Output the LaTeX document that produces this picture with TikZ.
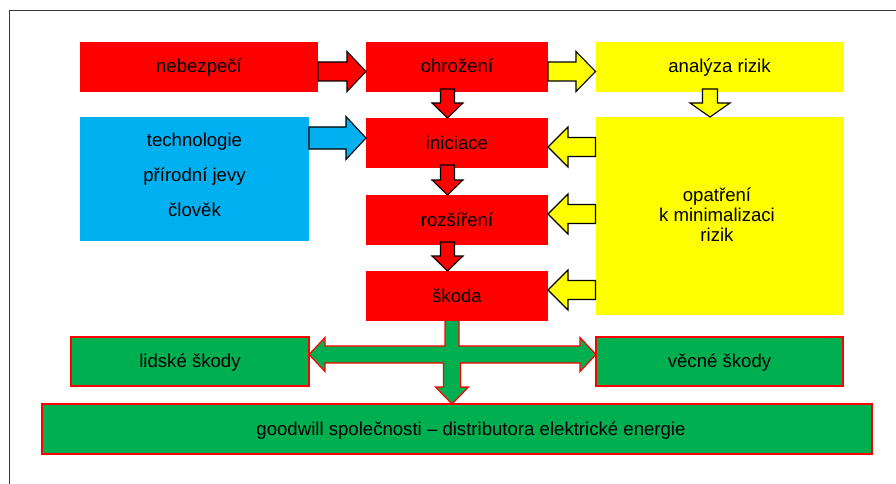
\documentclass[tikz,border=0pt]{standalone}
\usepackage{fontspec}
\setmainfont{Liberation Sans}
\usetikzlibrary{calc}
\definecolor{cred}{HTML}{FF0000}
\definecolor{cyel}{HTML}{FFFF00}
\definecolor{cblue}{HTML}{00B0F0}
\definecolor{cgreen}{HTML}{00B050}
\definecolor{cframe}{HTML}{383838}
\tikzset{
  x=1pt, y=-1pt,
  box/.style={inner sep=0pt, outer sep=0pt, text height=12pt, text depth=0pt,
    font=\fontsize{18.6}{20}\selectfont},
  redbox/.style={box, fill=cred},
  yelbox/.style={box, fill=cyel},
  bluebox/.style={box, fill=cblue},
  greenbox/.style={box, fill=cgreen, draw=cred, line width=1.2pt},
  txt/.style={inner sep=0pt, anchor=base, font=\fontsize{18.6}{20}\selectfont},
  blk/.style={draw=black, line width=1.1pt, line join=miter},
  grnarrow/.style={fill=cgreen, draw=cred, line width=1.2pt, line join=miter},
}
% right arrow: #1 source anchor, #2 target anchor, #3 dy, #4 shaft half, #5 head half, #6 head length, #7 style
\newcommand\RArr[7]{%
  \coordinate (T) at ($(#2)+(0,#3)$);
  \coordinate (S) at (#1 |- T);
  \draw[#7] ($(S)+(0,-#4)$) -- ($(T)+(-#6,-#4)$) -- ($(T)+(-#6,-#5)$) -- (T)
    -- ($(T)+(-#6,#5)$) -- ($(T)+(-#6,#4)$) -- ($(S)+(0,#4)$) -- cycle;}
\newcommand\LArr[7]{%
  \coordinate (T) at ($(#2)+(0,#3)$);
  \coordinate (S) at (#1 |- T);
  \draw[#7] ($(S)+(0,-#4)$) -- ($(T)+(#6,-#4)$) -- ($(T)+(#6,-#5)$) -- (T)
    -- ($(T)+(#6,#5)$) -- ($(T)+(#6,#4)$) -- ($(S)+(0,#4)$) -- cycle;}
% down arrow: #3 dx
\newcommand\DArr[7]{%
  \coordinate (T) at ($(#2)+(#3,0)$);
  \coordinate (S) at ($(T |- #1)+(0,-3)$);
  \draw[#7] ($(S)+(-#4,0)$) -- ($(T)+(-#4,-#6)$) -- ($(T)+(-#5,-#6)$) -- (T)
    -- ($(T)+(#5,-#6)$) -- ($(T)+(#4,-#6)$) -- ($(S)+(#4,0)$) -- cycle;}
\begin{document}
\begin{tikzpicture}
\useasboundingbox (0,0) rectangle (896,484);
\clip (0,0) rectangle (896,484);
\fill[white] (0,0) rectangle (896,484);
\draw[cframe, line width=1.5pt] (9.5,10.5) rectangle (1000,600);

% boxes
\node[redbox, minimum width=238pt, minimum height=50pt] (neb) at (199,67) {nebezpečí};
\node[redbox, minimum width=182pt, minimum height=50pt] (ohr) at (457,67) {ohrožení};
\node[yelbox, minimum width=248pt, minimum height=50pt] (ana) at (719.5,67) {analýza rizik};
\node[bluebox, minimum width=229pt, minimum height=124pt] (tech) at (194.5,179) {};
\node[redbox, minimum width=182pt, minimum height=50pt] (ini) at (457,143) {iniciace};
\node[yelbox, minimum width=248pt, minimum height=198pt] (opa) at (719.5,216) {};
\node[redbox, minimum width=182pt, minimum height=50pt] (roz) at (457,220) {rozšíření};
\node[redbox, minimum width=182pt, minimum height=50pt] (sko) at (457,296) {škoda};
\node[greenbox, minimum width=238pt, minimum height=49pt] (lid) at (190,361.5) {lidské škody};
\node[greenbox, minimum width=247pt, minimum height=49pt] (vec) at (719.5,361.5) {věcné škody};
\node[greenbox, minimum width=830pt, minimum height=50pt] (good) at (457,429) {};

% texts
\node[txt] (g1) at (471,435) {goodwill společnosti – distributora elektrické energie};
\node[txt] (t1) at (194.5,146.5) {technologie};
\node[txt] (t2) at (194.5,181.5) {přírodní jevy};
\node[txt] (t3) at (194.5,216.5) {člověk};
\node[txt] (o1) at (717,201) {opatření};
\node[txt] (o2) at (717,221) {k minimalizaci};
\node[txt] (o3) at (717,241) {rizik};

% green distribution arrow
\coordinate (J) at ($(sko.south)+(-5,33.5)$);
\coordinate (L) at (lid.east |- J);
\coordinate (R) at (vec.west |- J);
\coordinate (D) at (J |- good.north);
\draw[grnarrow] ($(J |- sko.south)+(-7,0)$) -- ($(J)+(-7,-8.5)$) -- ($(L)+(16,-8.5)$)
  -- ($(L)+(16,-17)$) -- (L) -- ($(L)+(16,17)$) -- ($(L)+(16,8.5)$)
  -- ($(J)+(-8.5,8.5)$) -- ($(D)+(-8.5,-17)$) -- ($(D)+(-16.5,-17)$) -- (D)
  -- ($(D)+(16.5,-17)$) -- ($(D)+(8.5,-17)$) -- ($(J)+(8.5,8.5)$)
  -- ($(R)+(-16,8.5)$) -- ($(R)+(-16,17)$) -- (R) -- ($(R)+(-16,-17)$)
  -- ($(R)+(-16,-8.5)$) -- ($(J)+(7,-8.5)$) -- ($(J |- sko.south)+(7,0)$);
\fill[cred] ($(sko.south)+(-91,-1)$) rectangle ($(sko.south)+(91,0)$);

% block arrows
\RArr{neb.east}{ohr.west}{4.5}{9.5}{20}{19}{blk, fill=cred}
\RArr{ohr.east}{ana.west}{4.5}{9.5}{20}{19.5}{blk, fill=cyel}
\RArr{tech.east}{ini.west}{-5}{11}{21.5}{20}{blk, fill=cblue}
\LArr{opa.west}{ini.east}{4}{9.5}{20}{20}{blk, fill=cyel}
\LArr{opa.west}{roz.east}{-6}{9.5}{20}{20}{blk, fill=cyel}
\LArr{opa.west}{sko.east}{-6}{9.5}{20}{20}{blk, fill=cyel}
\DArr{ohr.south}{ini.north}{-9.5}{7}{15.5}{15}{blk, fill=cred}
\DArr{ini.south}{roz.north}{-9.5}{7}{15.5}{15}{blk, fill=cred}
\DArr{roz.south}{sko.north}{-9.5}{7}{15.5}{15}{blk, fill=cred}
\DArr{ana.south}{opa.north}{-9.5}{7.5}{20}{14}{blk, fill=cyel}
\end{tikzpicture}
\end{document}
